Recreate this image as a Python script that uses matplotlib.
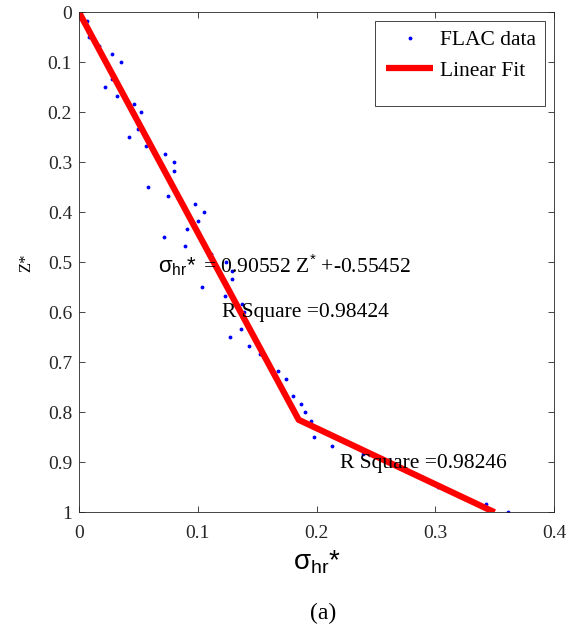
import matplotlib.pyplot as plt
from matplotlib.patches import Rectangle

plt.rcParams['mathtext.fontset'] = 'custom'
plt.rcParams['mathtext.rm'] = 'Liberation Sans'
plt.rcParams['mathtext.it'] = 'Liberation Sans:italic'

# FLAC results: normalised depth vs normalised horizontal stress
z_star = [0.000, 0.017, 0.033, 0.050, 0.067, 0.083, 0.100, 0.117, 0.133, 0.150,
          0.167, 0.183, 0.200, 0.217, 0.233, 0.250, 0.267, 0.283, 0.300, 0.317,
          0.333, 0.350, 0.367, 0.383, 0.400, 0.417, 0.433, 0.450, 0.467, 0.483,
          0.500, 0.517, 0.533, 0.550, 0.567, 0.583, 0.600, 0.617, 0.633, 0.650,
          0.667, 0.683, 0.700, 0.717, 0.733, 0.750, 0.767, 0.783, 0.800, 0.817,
          0.833, 0.850, 0.867, 0.883, 0.900, 0.917, 0.933, 0.950, 0.967, 0.983,
          1.000]
sigma_hr = [0.000, 0.0065, 0.0075, 0.008, 0.017, 0.0275, 0.035, 0.0265, 0.0275, 0.022,
            0.032, 0.0466, 0.052, 0.049, 0.050, 0.0424, 0.056, 0.0727, 0.0798, 0.0798,
            0.076, 0.058, 0.0747, 0.098, 0.1056, 0.1005, 0.0912, 0.0716, 0.0893, 0.111,
            0.124, 0.129, 0.129, 0.1035, 0.123, 0.137, 0.1387, 0.140, 0.136, 0.127,
            0.1435, 0.1525, 0.159, 0.1674, 0.1744, 0.170, 0.1805, 0.187, 0.190, 0.1954,
            0.200, 0.198, 0.2129, 0.239, 0.260, 0.275, 0.290, 0.302, 0.320, 0.3426,
            0.361]

# bilinear fit (two segments meeting at the kink)
fit_z = [0.0, 0.815, 1.0]
fit_sigma = [0.0, 0.185, 0.35]

x_ticks = [0, 0.1, 0.2, 0.3, 0.4]
y_ticks = [0, 0.1, 0.2, 0.3, 0.4, 0.5, 0.6, 0.7, 0.8, 0.9, 1]

serif = 'Liberation Serif'
sans = 'Liberation Sans'
W, H = 574, 629

fig = plt.figure(figsize=(W / 100, H / 100), dpi=100)
ax = fig.add_axes([79 / W, 1 - 512.3 / H, 475 / W, 500 / H])

ax.plot(sigma_hr, z_star, '.', color='blue', markersize=3.5, label='FLAC data')
ax.plot(fit_sigma, fit_z, '-', color='red', linewidth=4.5, label='Linear Fit',
        solid_capstyle='butt')

ax.set_xlim(0, 0.4)
ax.set_ylim(1, 0)
ax.set_xticks(x_ticks)
ax.set_yticks(y_ticks)
ax.set_xticklabels([f'{t:g}' for t in x_ticks], fontfamily=serif, fontsize=14)
ax.set_yticklabels([f'{t:g}' for t in y_ticks], fontfamily=serif, fontsize=14)
ax.tick_params(direction='in', top=True, right=True, length=4, width=0.6,
               colors='#262626')
ax.tick_params(axis='x', pad=9)
ax.tick_params(axis='y', pad=5)
for s in ax.spines.values():
    s.set_color('#262626')
    s.set_linewidth(0.6)

ax.set_xlabel(r'σ$_{\rm hr}$*', fontfamily=sans, fontsize=20, labelpad=5)
ax.set_ylabel('Z*', fontfamily=serif, fontsize=12, labelpad=10)

# fit equation and goodness of fit
ax.text(0.0666, 0.509, r'σ$_{\rm hr}$*', fontfamily=sans, fontsize=16,
        va='center', ha='left')
ax.text(0.1045, 0.509, r'= 0.90552 Z$^{*}$ +-0.55452', fontfamily=serif,
        fontsize=15.5, va='center', ha='left')
ax.text(0.120, 0.601, 'R Square =0.98424', fontfamily=serif, fontsize=15.5,
        va='center', ha='left')
ax.text(0.220, 0.903, 'R Square =0.98246', fontfamily=serif, fontsize=15.5,
        va='center', ha='left')

# legend entries, with a separate box drawn around them
leg = ax.legend(loc='upper left', bbox_to_anchor=(386 / W, 1 - 30 / H),
                bbox_transform=fig.transFigure, prop={'family': serif, 'size': 15.5},
                frameon=False, borderpad=0, borderaxespad=0,
                handlelength=2.2, handletextpad=0.3, labelspacing=0.5)
fig.add_artist(Rectangle((375 / W, 1 - 106 / H), 170 / W, 85 / H,
                         transform=fig.transFigure, facecolor='none',
                         edgecolor='#262626', linewidth=0.6, zorder=5))

fig.text(323 / W, 1 - 613 / H, '(a)', fontfamily=serif, fontsize=17,
         ha='center', va='center')

fig.savefig('out.png', dpi=100)
